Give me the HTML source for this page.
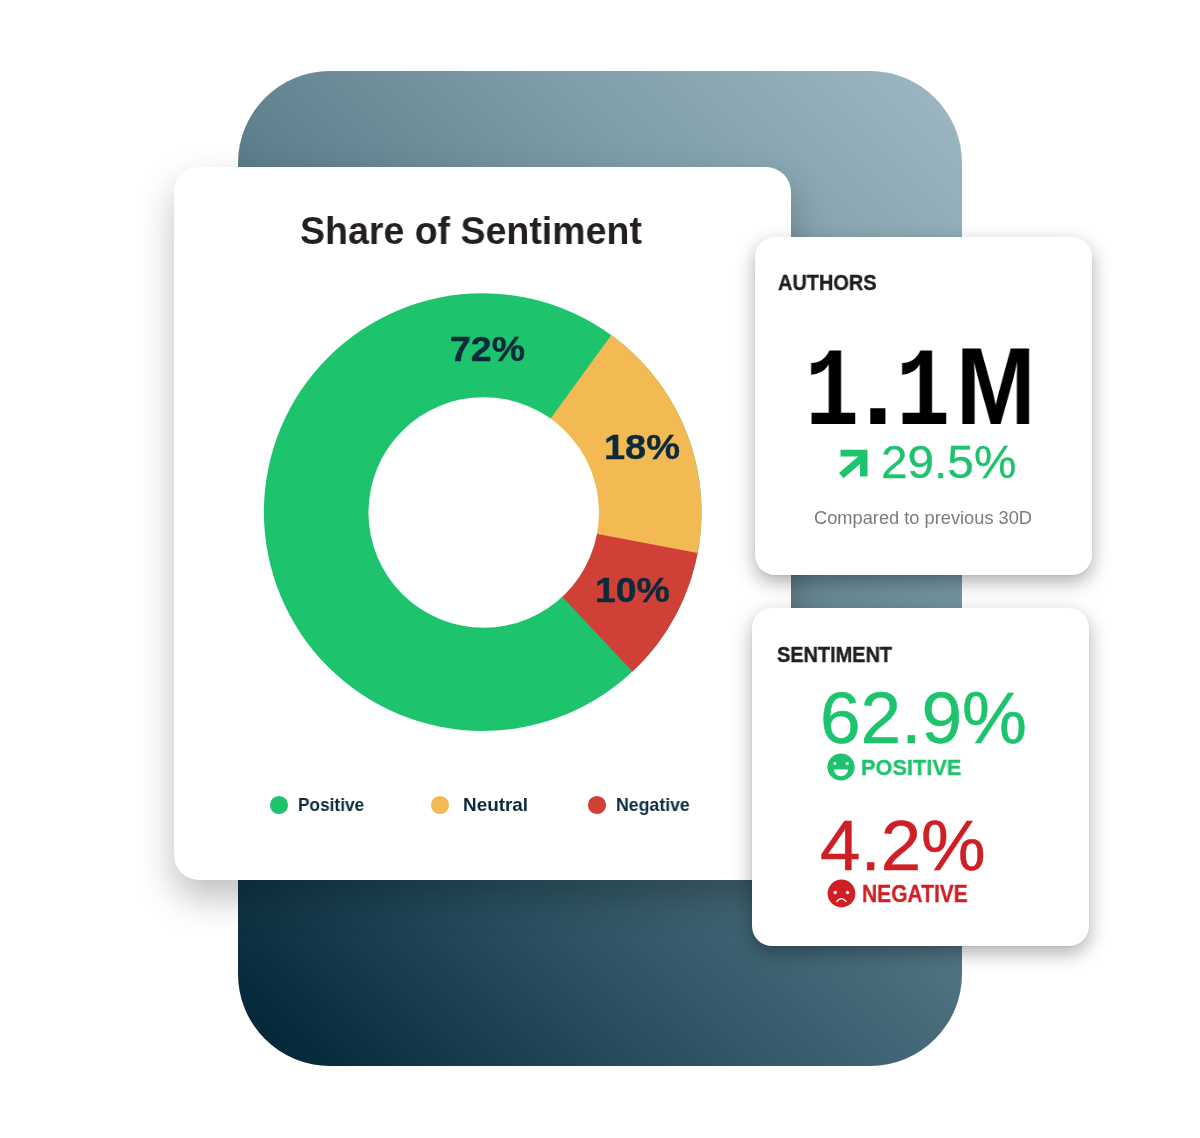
<!DOCTYPE html>
<html lang="en">
<head>
<meta charset="utf-8">
<title>Share of Sentiment</title>
<style>
*{margin:0;padding:0;box-sizing:border-box}
html,body{width:1200px;height:1138px;background:#fff;overflow:hidden}
body{font-family:"Liberation Sans",sans-serif;position:relative}
.stage{position:absolute;left:0;top:0;width:1200px;height:1138px;overflow:hidden}
.bg{position:absolute;left:238.2px;top:71.3px;width:723.6px;height:995.1px;border-radius:92px;
 background:linear-gradient(45deg,#062a3a 0%,#062a3a 4.5%,#264c5c 22.6%,#4a6d7c 44.1%,#60818e 55.8%,#7f9ea9 76.1%,#99b4be 95.9%,#9bb6c0 100%)}
.card{position:absolute;background:#fff}
.t{position:absolute;white-space:nowrap;line-height:1;transform-origin:0 0;display:block;will-change:transform}
.dot{position:absolute;border-radius:50%}
svg{position:absolute;display:block;overflow:visible}

.main{left:174px;top:167.2px;width:617.0px;height:712.6px;border-radius:25px;box-shadow:0 18px 36px rgba(0,0,0,.25)}
.authors{left:754.6px;top:237.4px;width:337.6px;height:338.0px;border-radius:20px;box-shadow:0 7px 19px rgba(0,0,0,.32),0 1px 2px rgba(0,0,0,.05)}
.sentiment{left:751.5px;top:608.3px;width:337.2px;height:337.5px;border-radius:20px;box-shadow:0 7px 19px rgba(0,0,0,.32),0 1px 2px rgba(0,0,0,.05)}
</style>
</head>
<body>
<div class="stage">
<div class="bg"></div>

<section class="card main">
<span class="t title" style="left:126.23px;top:45.60px;font-size:37.87px;font-weight:700;color:#231f20;transform:scaleX(0.9908);">Share of Sentiment</span>
<svg class="donut" style="left:88px;top:123.8px" width="442" height="443" viewBox="262 291 442 443">
<circle cx="482.7" cy="512.1" r="218.8" fill="#1dc36d"/>
<path fill="#d14037" d="M482.7 512.1L698.92 545.57A218.8 218.8 0 0 1 632.48 671.60Z"/>
<path fill="#f3ba53" d="M482.7 512.1L611.31 335.09A218.8 218.8 0 0 1 697.62 553.10Z"/>
<circle cx="483.7" cy="512.4" r="115.25" fill="#fff"/>
</svg>
<span class="t pct" style="left:275.97px;top:164.70px;font-size:35.65px;font-weight:700;color:#0b2b3c;transform:scaleX(1.0510);-webkit-text-stroke:.4px #0b2b3c;">72%</span>
<span class="t pct" style="left:430.31px;top:263.10px;font-size:35.65px;font-weight:700;color:#0b2b3c;transform:scaleX(1.0650);-webkit-text-stroke:.4px #0b2b3c;">18%</span>
<span class="t pct" style="left:421.11px;top:405.50px;font-size:34.87px;font-weight:700;color:#0b2b3c;transform:scaleX(1.0731);-webkit-text-stroke:.4px #0b2b3c;">10%</span>
<i class="dot" style="left:96.15px;top:629.15px;width:17.7px;height:17.7px;background:#1dc36d"></i>
<span class="t lg" style="left:124.26px;top:628.50px;font-size:18.16px;font-weight:700;color:#0b2b3c;transform:scaleX(0.9499);">Positive</span>
<i class="dot" style="left:256.85px;top:629.15px;width:17.7px;height:17.7px;background:#f3ba53"></i>
<span class="t lg" style="left:288.94px;top:628.50px;font-size:18.16px;font-weight:700;color:#0b2b3c;transform:scaleX(1.0398);">Neutral</span>
<i class="dot" style="left:414.45px;top:629.15px;width:17.7px;height:17.7px;background:#d14037"></i>
<span class="t lg" style="left:442.24px;top:628.50px;font-size:18.16px;font-weight:700;color:#0b2b3c;transform:scaleX(0.9748);">Negative</span>
</section>
<section class="card authors">
<span class="t lab" style="left:23.52px;top:35.10px;font-size:21.80px;font-weight:700;color:#231f20;transform:scaleX(0.9146);-webkit-text-stroke:.4px #231f20;">AUTHORS</span>
<span class="big">
<span class="t g" style="left:50.40px;top:101.60px;font-size:111.13px;font-weight:700;color:#000;transform:scaleX(0.8105);font-family:'Liberation Mono',monospace;">1</span>
<span class="t g" style="left:108.00px;top:97.90px;font-size:106.49px;font-weight:700;color:#000;transform:scaleX(1.0073);">.</span>
<span class="t g" style="left:141.40px;top:101.60px;font-size:111.13px;font-weight:700;color:#000;transform:scaleX(0.8105);font-family:'Liberation Mono',monospace;">1</span>
<span class="t g" style="left:201.80px;top:95.60px;font-size:108.75px;font-weight:700;color:#000;transform:scaleX(0.8762);">M</span>
</span>
<svg style="left:83.40px;top:211.60px" width="31" height="30" viewBox="838 449 31 30"><path fill="#1dc36d" d="M840.5 449.8H867.5V476.5H860V464L843.5 478.2L839 473L858.2 456.5H840.5Z"/></svg>
<span class="t chg" style="left:126.41px;top:203.10px;font-size:45.67px;font-weight:400;color:#1dc36d;transform:scaleX(1.0457);-webkit-text-stroke:.3px #1dc36d;">29.5%</span>
<span class="t cmp" style="left:59.35px;top:272.60px;font-size:17.46px;font-weight:400;color:#7b7b7b;transform:scaleX(1.0463);">Compared to previous 30D</span>
</section>
<section class="card sentiment">
<span class="t lab" style="left:25.09px;top:35.80px;font-size:21.80px;font-weight:700;color:#231f20;transform:scaleX(0.9135);-webkit-text-stroke:.4px #231f20;">SENTIMENT</span>
<span class="t num" style="left:68.26px;top:73.50px;font-size:72.48px;font-weight:400;color:#1dc36d;transform:scaleX(1.0065);-webkit-text-stroke:.5px #1dc36d;">62.9%</span>
<svg style="left:75.30px;top:144.70px" width="28" height="28" viewBox="-14 -14 28 28"><circle r="13.6" fill="#1dc36d"/><ellipse cx="-6.1" cy="-3.5" rx="1.5" ry="1.4" fill="#fff"/><ellipse cx="6.2" cy="-3.5" rx="1.5" ry="1.4" fill="#fff"/><path fill="#fff" d="M-7 2.5H7A7 6.8 0 0 1 -7 2.5Z"/></svg>
<span class="t sl" style="left:109.91px;top:149.20px;font-size:22.63px;font-weight:700;color:#1dc36d;transform:scaleX(0.9616);-webkit-text-stroke:.3px #1dc36d;">POSITIVE</span>
<span class="t num" style="left:68.64px;top:201.70px;font-size:71.03px;font-weight:400;color:#cf1f25;transform:scaleX(1.0239);-webkit-text-stroke:.5px #cf1f25;">4.2%</span>
<svg style="left:75.10px;top:270.70px" width="29" height="29" viewBox="-14.5 -14.5 29 29"><circle r="13.9" fill="#cf1f25"/><circle cx="-6.3" cy="-1" r="1.65" fill="#fff"/><circle cx="6.1" cy="-1" r="1.65" fill="#fff"/><path fill="none" stroke="#fff" stroke-width="1.4" stroke-linecap="round" d="M-4.7 7.9Q-0.1 2.4 4.5 7.9"/></svg>
<span class="t sl" style="left:110.31px;top:273.60px;font-size:24.05px;font-weight:700;color:#cf1f25;transform:scaleX(0.8729);-webkit-text-stroke:.3px #cf1f25;">NEGATIVE</span>
</section>
</div>
</body>
</html>
